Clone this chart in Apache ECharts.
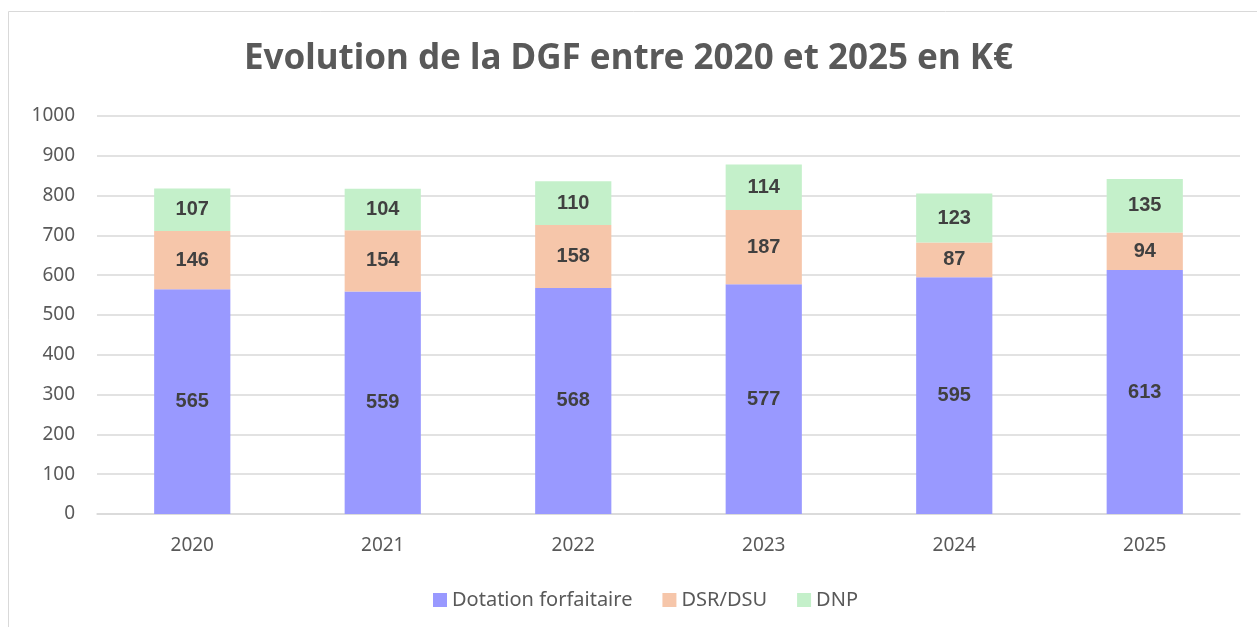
<!DOCTYPE html>
<html><head><meta charset="utf-8">
<script src="https://cdn.jsdelivr.net/npm/echarts@6/dist/echarts.min.js"></script>
<style>html,body{margin:0;padding:0;background:#fff}#c{width:1257px;height:627px}</style>
</head><body><div id="c"></div>
<script>
const categories = ['2020','2021','2022','2023','2024','2025'];
const dotation = [565,559,568,577,595,613];
const dsr = [146,154,158,187,87,94];
const dnp = [107,104,110,114,123,135];
const seriesNames = ['Dotation forfaitaire','DSR/DSU','DNP'];
const colors = ['#9999FF','#F6C6AA','#C4F0CA'];

const chart = echarts.init(document.getElementById('c'));
const lbl = {show:true, position:'inside', color:'#404040', fontWeight:'bold', fontSize:20, fontFamily:'Liberation Sans, Arial, sans-serif'};
const mk = (name, data, i) => ({name, type:'bar', stack:'t', data, barWidth:'40%', itemStyle:{color:colors[i]}, label:lbl});
chart.setOption({
  animation:false,
  title:{text:'Evolution de la DGF entre 2020 et 2025 en K€', left:'center', top:37,
    textStyle:{fontSize:35, fontWeight:'bold', color:'#595959', fontFamily:'Noto Sans, sans-serif'}},
  graphic:[{type:'rect', shape:{x:8.5,y:11.5,width:1260,height:640}, style:{fill:'none', stroke:'#d9d9d9', lineWidth:1}}],
  grid:{left:97, right:17, top:116, bottom:113},
  legend:{bottom:12, left:428, itemWidth:14, itemHeight:14, itemGap:30, icon:'rect',
    textStyle:{fontSize:20, color:'#595959', fontFamily:'Noto Sans, sans-serif'}, data:seriesNames},
  xAxis:{type:'category', data:categories, axisTick:{show:false},
    axisLine:{lineStyle:{color:'#d9d9d9', width:1.5}},
    axisLabel:{fontSize:19, color:'#595959', margin:22, fontFamily:'Noto Sans, sans-serif'}},
  yAxis:{type:'value', min:0, max:1000, interval:100,
    axisLine:{show:false}, axisTick:{show:false},
    splitLine:{lineStyle:{color:'#d9d9d9', width:1.5}},
    axisLabel:{fontSize:19, color:'#595959', margin:22, fontFamily:'Noto Sans, sans-serif', formatter:v=>String(v)}},
  series:[mk(seriesNames[0],dotation,0), mk(seriesNames[1],dsr,1), mk(seriesNames[2],dnp,2)]
});
</script></body></html>
